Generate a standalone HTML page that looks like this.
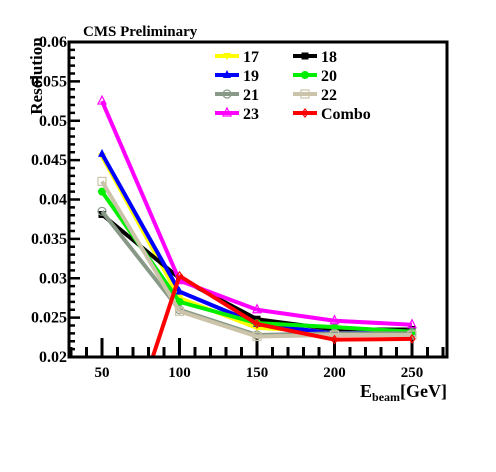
<!DOCTYPE html>
<html><head><meta charset="utf-8"><style>
html,body{margin:0;padding:0;background:#fff;overflow:hidden;width:496px;height:472px}
svg{display:block}
svg text{font-family:"Liberation Serif",serif;font-weight:bold}
</style></head><body>
<svg id="chart" width="496" height="472" viewBox="0 0 496 472" xmlns="http://www.w3.org/2000/svg">
<rect width="496" height="472" fill="#fff"/>
<text x="83" y="36" font-size="15">CMS Preliminary</text>
<g id="ticks"></g>
<g id="series"></g>
<rect x="69" y="42" width="378" height="315" fill="none" stroke="#000" stroke-width="3"/>
<text transform="translate(42,76) rotate(-90)" text-anchor="middle" font-size="17">Resolution</text>
<text x="447" y="397" text-anchor="end" font-size="18">E<tspan font-size="12" dy="4">beam</tspan><tspan dy="-4">[GeV]</tspan></text>
<g id="legend"></g>
</svg>
<script>
const energies=[50,100,150,200,250];
const xTicks=[50,100,150,200,250];
const yTicks=[0.02,0.025,0.03,0.035,0.04,0.045,0.05,0.055,0.06];
const yTickLabels=["0.02","0.025","0.03","0.035","0.04","0.045","0.05","0.055","0.06"];
const s17=[0.0455,0.0275,0.0237,0.0232,0.0230];
const s18=[0.0381,0.0300,0.0248,0.0235,0.0235];
const s19=[0.0458,0.0283,0.0242,0.0230,0.0232];
const s20=[0.0410,0.0270,0.0243,0.0238,0.0232];
const s21=[0.0385,0.0260,0.0228,0.0230,0.0230];
const s22=[0.0423,0.0258,0.0226,0.0228,0.0228];
const s23=[0.0525,0.0297,0.0260,0.0246,0.0241];
const combo=[0.0005,0.0303,0.0242,0.0222,0.0223];
const seriesNames=["17","18","19","20","21","22","23","Combo"];
const seriesColors=["#ffff00","#000000","#0000ff","#00ee00","#889988","#ccc4aa","#ff00ff","#ff0000"];
const seriesData=[s17,s18,s19,s20,s21,s22,s23,combo];
const X=v=>102+(v-50)*1.55;
const Y=v=>357-(v-0.02)*7875;
const PT=42,PB=357,PL=69,PR=447;
const NS="http://www.w3.org/2000/svg";
function mk(t,a,p){const e=document.createElementNS(NS,t);for(const k in a)e.setAttribute(k,a[k]);p.appendChild(e);return e;}
const tg=document.getElementById('ticks');
for(let v=30;v<=270;v+=10){const major=v%50===0;
 const l=mk('line',{x1:X(v),x2:X(v),y1:357,y2:357-(major?19:10),stroke:'#000','stroke-width':3},tg);
 
 }
xTicks.forEach(v=>{const t=mk('text',{x:X(v),y:377,'text-anchor':'middle','font-size':15},tg);t.textContent=v;
 
 });
for(let i=0;i<=40;i++){const v=0.02+i*0.001;const major=i%5===0;
 const l=mk('line',{x1:69,x2:69+(major?11:6),y1:Y(v),y2:Y(v),stroke:'#000','stroke-width':2.5},tg);
 
 }
yTicks.forEach((v,i)=>{const t=mk('text',{x:67,y:Y(v)+5,'text-anchor':'end','font-size':16},tg);t.textContent=yTickLabels[i];
 
 });
function marker(i,x,y,p){const c=seriesColors[i];let m;
 if(i===0)m=mk('path',{d:`M${x-4},${y-3}L${x+4},${y-3}L${x},${y+4}Z`,fill:c},p);
 else if(i===1)m=mk('rect',{x:x-3.5,y:y-3.5,width:7,height:7,fill:c},p);
 else if(i===2)m=mk('path',{d:`M${x-4},${y+3}L${x+4},${y+3}L${x},${y-5}Z`,fill:c},p);
 else if(i===3)m=mk('circle',{cx:x,cy:y,r:4,fill:c},p);
 else if(i===4)m=mk('circle',{cx:x,cy:y,r:4,fill:'none',stroke:c,'stroke-width':1.2},p);
 else if(i===5)m=mk('rect',{x:x-4,y:y-4,width:8,height:8,fill:'none',stroke:c,'stroke-width':1.2},p);
 else if(i===6)m=mk('path',{d:`M${x-4},${y+3}L${x+4},${y+3}L${x},${y-5}Z`,fill:'none',stroke:c,'stroke-width':1.2},p);
 else m=mk('path',{d:`M${x},${y-4}L${x+3},${y}L${x},${y+4}L${x-3},${y}Z`,fill:'none',stroke:c,'stroke-width':1.2},p);
 return m;}
function clipSeg(x1,y1,x2,y2){
 let t0=0,t1=1;const dx=x2-x1,dy=y2-y1;
 const chk=(p,q)=>{if(p===0)return q>=0;const r=q/p;if(p<0){if(r>t1)return false;if(r>t0)t0=r;}else{if(r<t0)return false;if(r<t1)t1=r;}return true;};
 if(chk(-dx,x1-PL)&&chk(dx,PR-x1)&&chk(-dy,y1-PT)&&chk(dy,PB-y1))
  return [x1+t0*dx,y1+t0*dy,x1+t1*dx,y1+t1*dy];
 return null;}
const sg=document.getElementById('series');
seriesData.forEach((d,i)=>{const g=mk('g',{},sg);
 
 
 let dstr='';
 for(let j=0;j<d.length-1;j++){
  const c=clipSeg(X(energies[j]),Y(d[j]),X(energies[j+1]),Y(d[j+1]));
  if(c)dstr+=`M${c[0]},${c[1]}L${c[2]},${c[3]}`;}
 const pl=mk('path',{d:dstr,fill:'none',stroke:seriesColors[i],'stroke-width':4,'stroke-linejoin':'miter'},g);
 
 
 d.forEach((v,j)=>{const y=Y(v);if(y>PB||y<PT)return;
  const m=marker(i,X(energies[j]),y,g);
  
  });});
const lg=document.getElementById('legend');
seriesNames.forEach((n,i)=>{const col=i%2,row=Math.floor(i/2);const x0=col?293:215,y0=56+row*19;
 const g=mk('g',{},lg);
 
 
 mk('line',{x1:x0,x2:x0+24,y1:y0,y2:y0,stroke:seriesColors[i],'stroke-width':4},g);
 marker(i,x0+12,y0,g);
 const t=mk('text',{x:x0+28,y:y0+6,'font-size':16},g);t.textContent=n;});
</script>
</body></html>
